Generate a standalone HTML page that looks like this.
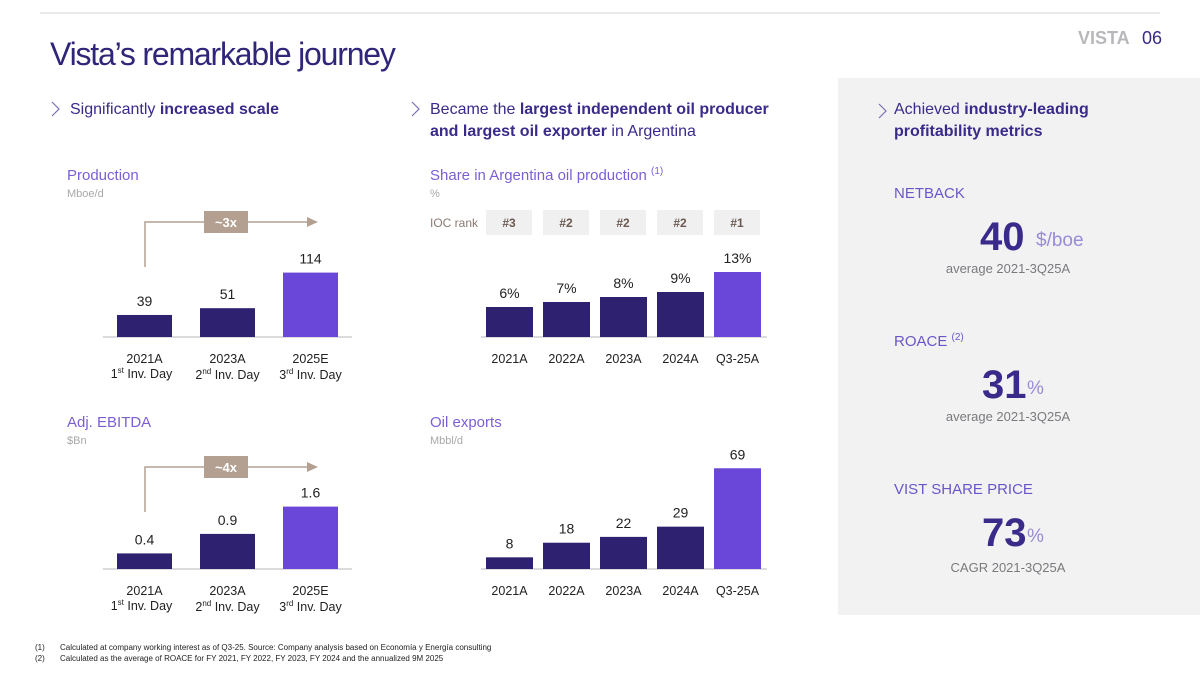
<!DOCTYPE html>
<html><head><meta charset="utf-8"><style>
body{margin:0;width:1200px;height:675px;overflow:hidden;background:#fff;font-family:"Liberation Sans",sans-serif}
svg{display:block}
</style></head><body>
<svg id="s" width="1200" height="675" xmlns="http://www.w3.org/2000/svg" font-family="Liberation Sans, sans-serif">
<rect x="838" y="78" width="362" height="537" fill="#f2f2f3"/>
<line x1="40" y1="13" x2="1160" y2="13" stroke="#e4e4e6" stroke-width="1.5"/>
<text x="1078" y="44" font-size="18" font-weight="bold" fill="#b8b8bc">VISTA</text>
<text x="1142" y="44" font-size="18" fill="#3a2a8a">06</text>
<text x="50" y="65" font-size="32" fill="#2f2579" letter-spacing="-1.2">Vista’s remarkable journey</text>

<g font-size="16" fill="#3a2a8a">
<polyline points="52,102 59,109 52,116" fill="none" stroke="#7a6fb0" stroke-width="1.2"/>
<text x="70" y="114">Significantly <tspan font-weight="bold">increased scale</tspan></text></g>
<g font-size="16" fill="#3a2a8a">
<polyline points="412,102 419,109 412,116" fill="none" stroke="#7a6fb0" stroke-width="1.2"/>
<text x="430" y="114">Became the <tspan font-weight="bold">largest independent oil producer</tspan></text>
<text x="430" y="136"><tspan font-weight="bold">and largest oil exporter</tspan> in Argentina</text></g>
<g font-size="16" fill="#3a2a8a">
<polyline points="879,104 886,111 879,118" fill="none" stroke="#7a6fb0" stroke-width="1.2"/>
<text x="894" y="114">Achieved <tspan font-weight="bold">industry-leading</tspan></text>
<text x="894" y="136" font-weight="bold">profitability metrics</text></g>

<text x="67" y="180" font-size="15" fill="#7b5ed6">Production</text>
<text x="67" y="197" font-size="11" fill="#a8a8ac">Mboe/d</text>
<text x="430" y="180" font-size="15" fill="#7b5ed6">Share in Argentina oil production <tspan font-size="10" dy="-6">(1)</tspan></text>
<text x="430" y="197" font-size="11" fill="#a8a8ac">%</text>
<text x="67" y="427" font-size="15" fill="#7b5ed6">Adj. EBITDA</text>
<text x="67" y="444" font-size="11" fill="#a8a8ac">$Bn</text>
<text x="430" y="427" font-size="15" fill="#7b5ed6">Oil exports</text>
<text x="430" y="444" font-size="11" fill="#a8a8ac">Mbbl/d</text>
<text x="430" y="227" font-size="12" fill="#8a7a70">IOC rank</text>

<g>
<text x="894" y="198" font-size="15" fill="#6b55c8">NETBACK</text>
<text x="980" y="250" font-size="40" font-weight="bold" fill="#3a2a8a">40</text>
<text x="1036" y="246" font-size="19" fill="#9a8ad8">$/boe</text>
<text x="1008" y="273" font-size="13" fill="#7a7a7e" text-anchor="middle">average 2021-3Q25A</text></g>
<g>
<text x="894" y="346" font-size="15" fill="#6b55c8">ROACE <tspan font-size="10" dy="-6">(2)</tspan></text>
<text x="982" y="398" font-size="40" font-weight="bold" fill="#3a2a8a">31</text>
<text x="1027" y="394" font-size="19" fill="#9a8ad8">%</text>
<text x="1008" y="421" font-size="13" fill="#7a7a7e" text-anchor="middle">average 2021-3Q25A</text></g>
<g>
<text x="894" y="494" font-size="15" fill="#6b55c8">VIST SHARE PRICE</text>
<text x="982" y="546" font-size="40" font-weight="bold" fill="#3a2a8a">73</text>
<text x="1027" y="542" font-size="19" fill="#9a8ad8">%</text>
<text x="1008" y="572" font-size="13" fill="#7a7a7e" text-anchor="middle">CAGR 2021-3Q25A</text></g>

<g font-size="8" fill="#222">
<text x="35" y="650">(1)</text><text x="60" y="650">Calculated at company working interest as of Q3-25. Source: Company analysis based on Economía y Energía consulting</text>
<text x="35" y="661">(2)</text><text x="60" y="661">Calculated as the average of ROACE for FY 2021, FY 2022, FY 2023, FY 2024 and the annualized 9M 2025</text></g>
<g id="charts"></g>
</svg>
<script>
const prodCats=["2021A","2023A","2025E"];
const prodSub=[["1","st"],["2","nd"],["3","rd"]];
const prodVals=[39,51,114];
const prodLabels=["39","51","114"];
const ebitdaVals=[0.4,0.9,1.6];
const ebitdaLabels=["0.4","0.9","1.6"];
const shareCats=["2021A","2022A","2023A","2024A","Q3-25A"];
const shareVals=[6,7,8,9,13];
const shareLabels=["6%","7%","8%","9%","13%"];
const iocRanks=["#3","#2","#2","#2","#1"];
const exportVals=[8,18,22,29,69];
const exportLabels=["8","18","22","29","69"];

const NS="http://www.w3.org/2000/svg";
const G=document.getElementById("charts");
function mk(tag,attrs,parent){const e=document.createElementNS(NS,tag);for(const k in attrs)e.setAttribute(k,attrs[k]);(parent||G).appendChild(e);return e;}
function chart(name,cats,vals,labels,x0,w,gap,base,scale,lineX1,lineX2,sub){
  const g=mk("g",{});
  
  
  mk("line",{x1:lineX1,y1:base,x2:lineX2,y2:base,stroke:"#cfcfd3","stroke-width":1.5},g);
  const y=v=>base-v*scale;
  vals.forEach((v,i)=>{
    const x=x0+i*(w+gap);
    const last=i===vals.length-1;
    const r=mk("rect",{x:x,y:y(v),width:w,height:base-y(v),fill:last?"#6b47d9":"#2e2270"},g);
    
    
    const t=mk("text",{x:x+w/2,y:y(v)-9,"font-size":14,fill:"#222","text-anchor":"middle"},g);
    t.textContent=labels[i];
    
    
    const c=mk("text",{x:x+w/2,y:base+26,"font-size":12.5,fill:"#222","text-anchor":"middle"},g);
    c.textContent=cats[i];
    
    
    if(sub){
      const s=mk("text",{x:x+w/2+(i?0:-3),y:base+41+(i?1:0),"font-size":12.5,fill:"#222","text-anchor":"middle"},g);
      s.innerHTML=sub[i][0]+'<tspan font-size="8" dy="-5">'+sub[i][1]+'</tspan><tspan dy="5"> Inv. Day</tspan>';
      
      
    }
  });
}
chart("production-chart",prodCats,prodVals,prodLabels,117,55,28,337,0.565,103,352,prodSub);
chart("ebitda-chart",prodCats,ebitdaVals,ebitdaLabels,117,55,28,569,39,103,352,prodSub);
chart("share-chart",shareCats,shareVals,shareLabels,486,47,10,337,5,481,767,null);
chart("exports-chart",shareCats,exportVals,exportLabels,486,47,10,569,1.46,481,767,null);

iocRanks.forEach((r,i)=>{
  const x=486+i*57;
  const b=mk("rect",{x:x,y:210,width:46,height:25,fill:"#f0f0f1"});
  
  
  const t=mk("text",{x:x+23,y:227,"font-size":12,"font-weight":"bold",fill:"#6a5a52","text-anchor":"middle"});
  t.textContent=r;
  
  
});
function growth(name,y,label){
  const g=mk("g",{});
  
  
  mk("polyline",{points:`145,${y+45} 145,${y} 308,${y}`,fill:"none",stroke:"#b4a090","stroke-width":1.5},g);
  mk("polygon",{points:`318,${y} 307,${y-5} 307,${y+5}`,fill:"#b4a090"},g);
  mk("rect",{x:204,y:y-11,width:44,height:22,fill:"#b4a090"},g);
  const t=mk("text",{x:226,y:y+5,"font-size":13,"font-weight":"bold",fill:"#fff","text-anchor":"middle"},g);
  t.textContent=label;
}
growth("growth-arrow-3x",222,"~3x");
growth("growth-arrow-4x",467,"~4x");
</script>
</body></html>
